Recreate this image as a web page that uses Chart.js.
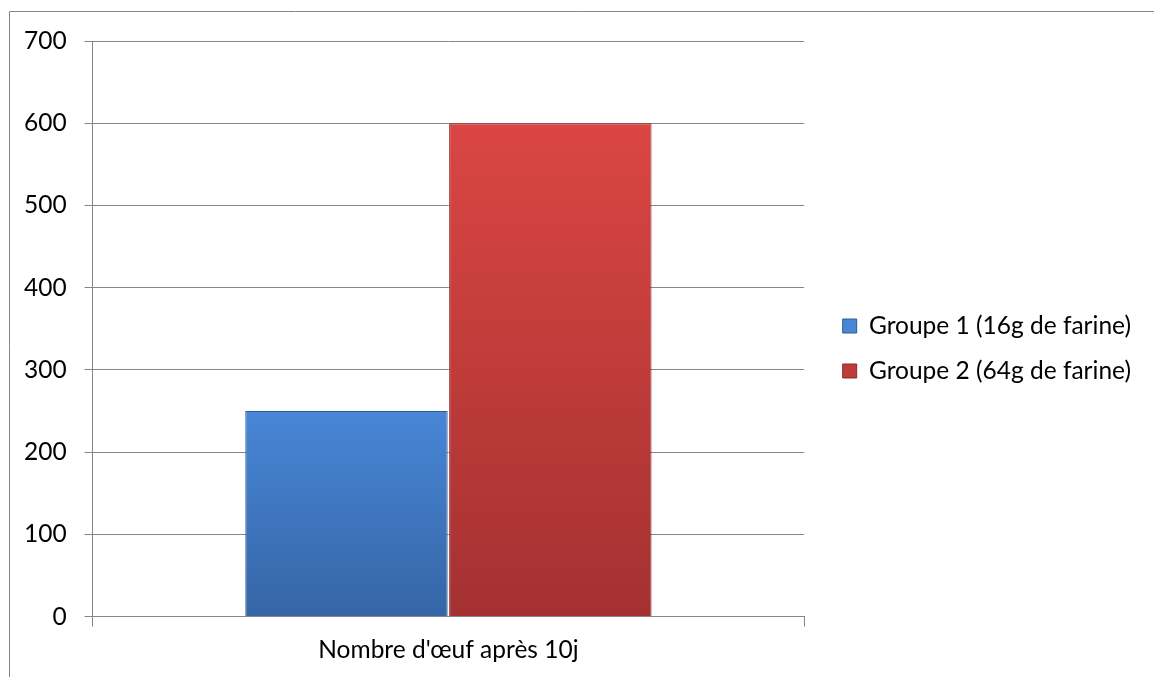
<!DOCTYPE html>
<html>
<head>
<meta charset="utf-8">
<script src="https://cdn.jsdelivr.net/npm/chart.js@4"></script>
<style>
  html, body { margin: 0; padding: 0; background: #fff; overflow: hidden; }
  #wrap { position: relative; width: 1154px; height: 677px; }
</style>
</head>
<body>
<div id="wrap"><canvas id="eggChart" width="1154" height="677"></canvas></div>
<script>
// chart values
const categories = ["Nombre d'œuf après 10j"];
const groupLabels = ['Groupe 1 (16g de farine)', 'Groupe 2 (64g de farine)'];
const groupe1 = [250];
const groupe2 = [600];
const yTicks = [0, 100, 200, 300, 400, 500, 600, 700];

const FONT = 'Lato, "Open Sans", sans-serif';
const FONT_SIZE = 24.5;
const LEGEND_GAP = 18;     // empty space between plot and legend
const LEGEND_SHIFT_Y = -9; // nudge the legend up a little

// vertical gradient from the top of each bar down to the axis
function barGradient(top, bottom) {
    return function(context) {
        const chart = context.chart;
        if (!chart.chartArea) return bottom;
        const y = chart.scales.y;
        const yTop = y.getPixelForValue(context.raw);
        const yBottom = y.getPixelForValue(0);
        if (!isFinite(yTop) || yTop === yBottom) return top;
        const g = chart.ctx.createLinearGradient(0, yTop, 0, yBottom);
        g.addColorStop(0, top);
        g.addColorStop(1, bottom);
        return g;
    };
}

// outer frame of the chart
const framePlugin = {
    id: 'frame',
    beforeDraw(chart) {
        const c = chart.ctx;
        c.save();
        c.strokeStyle = '#868686';
        c.lineWidth = 1;
        c.beginPath();
        c.moveTo(9.5, chart.height);
        c.lineTo(9.5, 11.5);
        c.lineTo(chart.width, 11.5);
        c.stroke();
        c.restore();
    }
};

// leave some room on the left of the legend
const legendGapPlugin = {
    id: 'legendGap',
    beforeLayout(chart) {
        const legend = chart.legend;
        if (legend && !legend._gapWrapped) {
            const fit = legend.fit;
            legend.fit = function() {
                fit.call(this);
                this.width += LEGEND_GAP;
            };
            legend._gapWrapped = true;
        }
    },
    afterLayout(chart) {
        const legend = chart.legend;
        if (!legend) return;
        legend.left += LEGEND_GAP;
        legend.top += LEGEND_SHIFT_Y;
        legend.bottom += LEGEND_SHIFT_Y;
    }
};

document.addEventListener('DOMContentLoaded', function() {
    const ctx = document.getElementById('eggChart').getContext('2d');
    new Chart(ctx, {
        type: 'bar',
        data: {
            labels: categories,
            datasets: [{
                label: groupLabels[0],
                data: groupe1,
                backgroundColor: barGradient('#4886d6', '#3565a6'),
                borderColor: '#2f5b94',
                borderWidth: 1
            }, {
                label: groupLabels[1],
                data: groupe2,
                backgroundColor: barGradient('#da4643', '#a43131'),
                borderColor: '#8c2a2a',
                borderWidth: 1
            }]
        },
        options: {
            responsive: false,
            animation: false,
            layout: {
                padding: { left: 6, top: 41, right: 13, bottom: 3 }
            },
            datasets: {
                bar: {
                    categoryPercentage: 0.573,
                    barPercentage: 0.993
                }
            },
            plugins: {
                legend: {
                    position: 'right',
                    maxWidth: 420,
                    labels: {
                        font: { family: FONT, size: FONT_SIZE },
                        color: '#000',
                        boxWidth: 14,
                        boxHeight: 14,
                        padding: 20.5
                    }
                },
                tooltip: { enabled: false }
            },
            scales: {
                x: {
                    offset: true,
                    grid: {
                        offset: true,
                        drawOnChartArea: false,
                        drawTicks: true,
                        tickLength: 10,
                        color: '#868686'
                    },
                    border: { display: true, color: '#868686' },
                    ticks: {
                        font: { family: FONT, size: FONT_SIZE },
                        color: '#000',
                        padding: 9
                    }
                },
                y: {
                    min: 0,
                    max: 700,
                    afterBuildTicks: function(axis) {
                        axis.ticks = yTicks.map(v => ({ value: v }));
                    },
                    grid: {
                        color: '#868686',
                        tickLength: 8
                    },
                    border: { display: true, color: '#868686' },
                    ticks: {
                        font: { family: FONT, size: FONT_SIZE },
                        color: '#000',
                        padding: 18
                    }
                }
            }
        },
        plugins: [framePlugin, legendGapPlugin]
    });
});
</script>
</body>
</html>
